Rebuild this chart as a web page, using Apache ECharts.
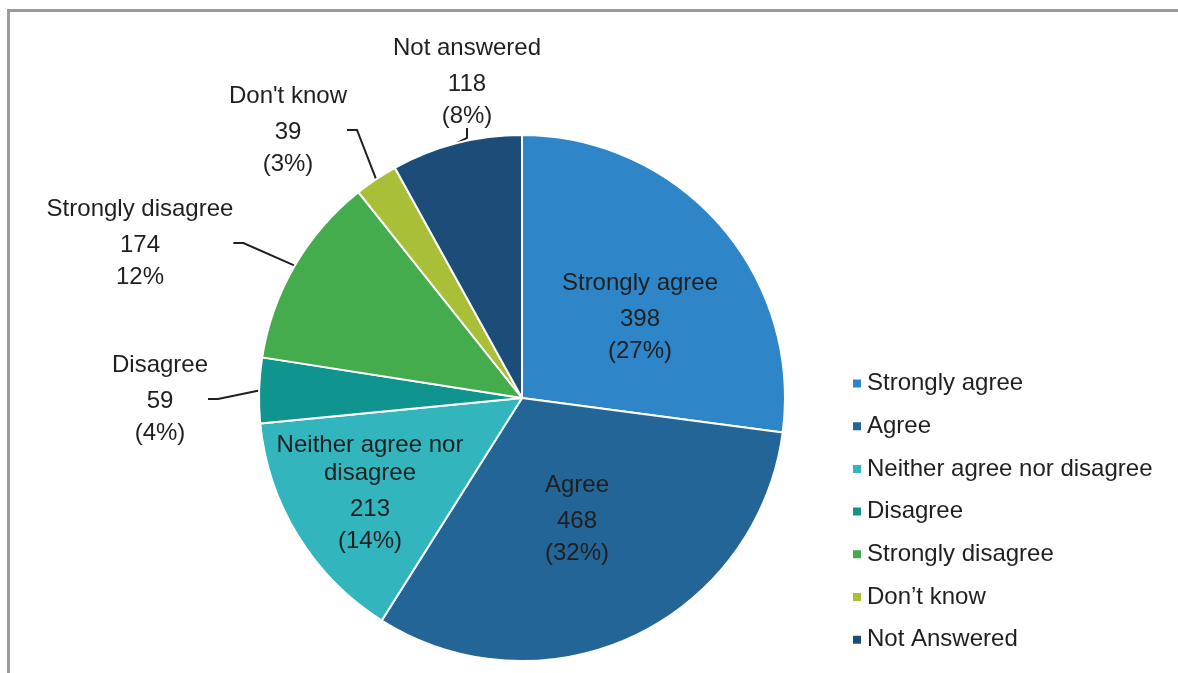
<!DOCTYPE html>
<html>
<head>
<meta charset="utf-8">
<script src="https://cdn.jsdelivr.net/npm/echarts@6/dist/echarts.min.js"></script>
<style>
  html, body { margin: 0; padding: 0; background: #ffffff; }
  #frame { position: absolute; left: 7px; top: 9px; width: 1171px; height: 664px;
           border-left: 3px solid #9b9b9b; border-top: 3px solid #9b9b9b; box-sizing: border-box; }
  #chart { position: absolute; left: 0; top: 0; width: 1178px; height: 673px; }
</style>
</head>
<body>
<div id="frame"></div>
<div id="chart"></div>
<script>
// ---- data ----
const categories = ['Strongly agree', 'Agree', 'Neither agree nor disagree', 'Disagree', 'Strongly disagree', "Don\u2019t know", 'Not Answered'];
const labelNames = ['Strongly agree', 'Agree', 'Neither agree nor\ndisagree', 'Disagree', 'Strongly disagree', "Don't know", 'Not answered'];
const values = [398, 468, 213, 59, 174, 39, 118];
const percentLabels = ['(27%)', '(32%)', '(14%)', '(4%)', '12%', '(3%)', '(8%)'];
const colors = ['#2E86C9', '#236596', '#33B5BE', '#0F9490', '#44AC4C', '#AABF38', '#1C4D79'];
const insideLabel = [true, true, true, false, false, false, false];

// label placement (layout only)
const labelPos = [
  [640, 315], [577, 517], [370, 491], [160, 397], [140, 241], [288, 128], [467, 80]
];

const chart = echarts.init(document.getElementById('chart'), null, { renderer: 'canvas' });

const data = categories.map((c, i) => ({
  name: c,
  value: values[i],
  itemStyle: { color: colors[i] },
  label: {
    position: insideLabel[i] ? 'inside' : 'outside',
    formatter: () => {
      const nameLines = labelNames[i].split('\n').map(s => '{n|' + s + '}').join('\n');
      return nameLines + '\n{v|' + values[i] + '}\n{p|' + percentLabels[i] + '}';
    }
  },
  labelLine: { show: !insideLabel[i] }
}));

const font = '"Liberation Sans", Arial, sans-serif';
const fs = 24;

chart.setOption({
  animation: false,
  backgroundColor: 'transparent',
  legend: {
    orient: 'vertical',
    left: 846,
    top: 365,
    icon: 'rect',
    itemWidth: 10,
    itemHeight: 10,
    itemGap: 15.7,
    data: categories,
    textStyle: { fontFamily: font, fontSize: fs, color: '#1f1f1f', lineHeight: 27 }
  },
  series: [{
    type: 'pie',
    center: [522, 398],
    radius: 263,
    startAngle: 90,
    clockwise: true,
    avoidLabelOverlap: false,
    itemStyle: { borderColor: '#ffffff', borderWidth: 2 },
    label: {
      show: true,
      fontFamily: font,
      color: '#1f1f1f',
      align: 'center',
      rich: {
        n: { fontFamily: font, fontSize: fs, color: '#1f1f1f', lineHeight: 28, align: 'center' },
        v: { fontFamily: font, fontSize: fs, color: '#1f1f1f', lineHeight: 44, align: 'center' },
        p: { fontFamily: font, fontSize: fs, color: '#1f1f1f', lineHeight: 20, align: 'center' }
      }
    },
    labelLine: {
      show: true,
      length: 10,
      length2: 10,
      lineStyle: { color: '#1f1f1f', width: 2 }
    },
    labelLayout: function (params) {
      const p = labelPos[params.dataIndex];
      return { x: p[0], y: p[1], align: 'center', verticalAlign: 'middle' };
    },
    emphasis: { disabled: true },
    data: data
  }]
});
</script>
</body>
</html>
